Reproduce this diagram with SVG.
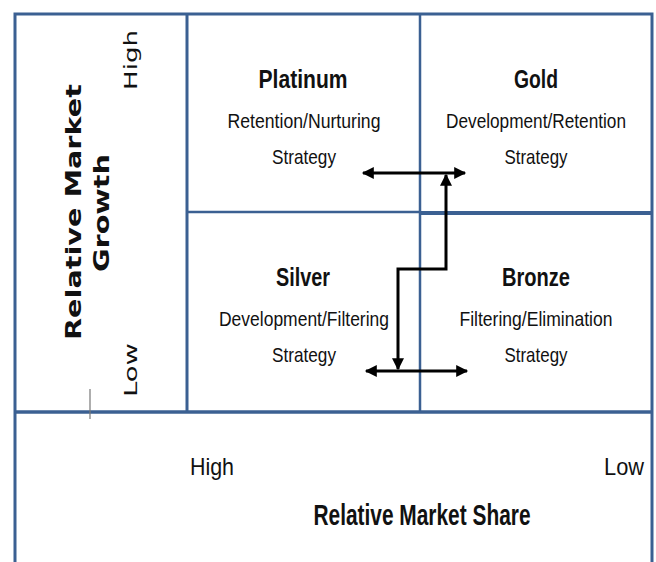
<svg xmlns="http://www.w3.org/2000/svg" width="656" height="562" viewBox="0 0 656 562">
<defs>
<marker id="ah" viewBox="0 0 10 10" refX="9" refY="5" markerWidth="4.5" markerHeight="4" orient="auto-start-reverse" markerUnits="strokeWidth">
<path d="M0,0 L10,5 L0,10 z" fill="#000"/>
</marker>
<style>
.b{stroke:#3b6092;fill:none}
.t{font-family:"Liberation Sans",Arial,sans-serif;fill:#111;text-anchor:middle}
.h{font-size:25px;font-weight:bold}
.s{font-size:21px}
.v{font-family:"DejaVu Sans",Verdana,sans-serif;fill:#111;text-anchor:middle}
.c{stroke:#000;stroke-width:3;fill:none}
</style>
</defs>
<rect width="656" height="562" fill="#fff"/>
<g id="frame">
<path class="b" stroke-width="3" d="M15,562 V14 H652 V562"/>
<line class="b" stroke-width="3" x1="187" y1="14" x2="187" y2="412"/>
<line class="b" stroke-width="2.5" x1="420" y1="14" x2="420" y2="412"/>
<line class="b" stroke-width="2.5" x1="187" y1="212" x2="420" y2="212"/>
<line class="b" stroke-width="4" x1="420" y1="213" x2="652" y2="213"/>
<line class="b" stroke-width="3.5" x1="15" y1="412" x2="652" y2="412"/>
<line x1="90" y1="389" x2="90" y2="419" stroke="#777" stroke-width="1.2"/>
</g>
<g id="yaxis">
<text class="v" font-size="21" font-weight="bold" transform="translate(81,212) rotate(-90)" textLength="256" lengthAdjust="spacingAndGlyphs">Relative Market</text>
<text class="v" font-size="21" font-weight="bold" transform="translate(109,213) rotate(-90)" textLength="118" lengthAdjust="spacingAndGlyphs">Growth</text>
<text class="v" font-size="18" transform="translate(137,60) rotate(-90)" textLength="60" lengthAdjust="spacingAndGlyphs">High</text>
<text class="v" font-size="18" transform="translate(137,370) rotate(-90)" textLength="54" lengthAdjust="spacingAndGlyphs">Low</text>
</g>
<g id="platinum">
<text class="t h" x="303" y="88" textLength="89" lengthAdjust="spacingAndGlyphs">Platinum</text>
<text class="t s" x="304" y="128" textLength="153" lengthAdjust="spacingAndGlyphs">Retention/Nurturing</text>
<text class="t s" x="304" y="164" textLength="64" lengthAdjust="spacingAndGlyphs">Strategy</text>
</g>
<g id="gold">
<text class="t h" x="536" y="88" textLength="44" lengthAdjust="spacingAndGlyphs">Gold</text>
<text class="t" font-size="19.5" x="536" y="128" textLength="180" lengthAdjust="spacingAndGlyphs">Development/Retention</text>
<text class="t s" x="536" y="164" textLength="63" lengthAdjust="spacingAndGlyphs">Strategy</text>
</g>
<g id="silver">
<text class="t h" x="303" y="286" textLength="54" lengthAdjust="spacingAndGlyphs">Silver</text>
<text class="t s" x="304" y="326" textLength="170" lengthAdjust="spacingAndGlyphs">Development/Filtering</text>
<text class="t s" x="304" y="362" textLength="64" lengthAdjust="spacingAndGlyphs">Strategy</text>
</g>
<g id="bronze">
<text class="t h" x="536" y="286" textLength="68" lengthAdjust="spacingAndGlyphs">Bronze</text>
<text class="t s" x="536" y="326" textLength="153" lengthAdjust="spacingAndGlyphs">Filtering/Elimination</text>
<text class="t s" x="536" y="362" textLength="63" lengthAdjust="spacingAndGlyphs">Strategy</text>
</g>
<g id="xaxis">
<text class="t" font-size="24" x="212" y="475" textLength="44" lengthAdjust="spacingAndGlyphs">High</text>
<text class="t" font-size="24" x="624" y="475" textLength="40" lengthAdjust="spacingAndGlyphs">Low</text>
<text class="t" font-size="29" font-weight="bold" x="422" y="525" textLength="217" lengthAdjust="spacingAndGlyphs">Relative Market Share</text>
</g>
<g id="connectors">
<line class="c" x1="363" y1="173" x2="465" y2="173" marker-start="url(#ah)" marker-end="url(#ah)"/>
<path class="c" d="M398,369 V269 H446 V175" marker-start="url(#ah)" marker-end="url(#ah)"/>
<line class="c" x1="366" y1="371" x2="467" y2="371" marker-start="url(#ah)" marker-end="url(#ah)"/>
</g>
</svg>
